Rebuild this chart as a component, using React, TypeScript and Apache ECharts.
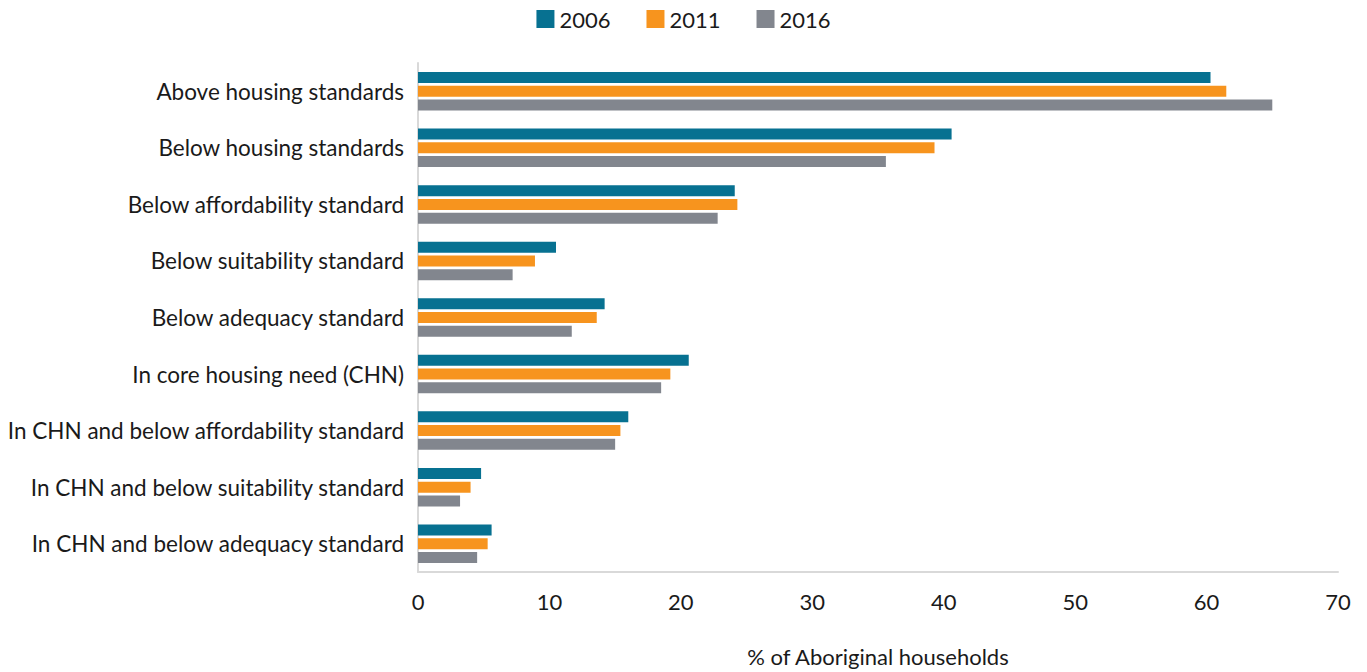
import React, { useEffect, useRef } from "react";
import * as echarts from "echarts";

const categories = [
  "Above housing standards",
  "Below housing standards",
  "Below affordability standard",
  "Below suitability standard",
  "Below adequacy standard",
  "In core housing need (CHN)",
  "In CHN and below affordability standard",
  "In CHN and below suitability standard",
  "In CHN and below adequacy standard",
];

const years = ["2006", "2011", "2016"];
const values2006 = [60.3, 40.6, 24.1, 10.5, 14.2, 20.6, 16.0, 4.8, 5.6];
const values2011 = [61.5, 39.3, 24.3, 8.9, 13.6, 19.2, 15.4, 4.0, 5.3];
const values2016 = [65.0, 35.6, 22.8, 7.2, 11.7, 18.5, 15.0, 3.2, 4.5];
const xTicks = { min: 0, max: 70, interval: 10 };
const xTitle = "% of Aboriginal households";

const colors = ["#077191", "#F7941E", "#82868E"];
const FONT = "Lato, 'Open Sans', sans-serif";

export default function App() {
  const ref = useRef<HTMLDivElement>(null);
  useEffect(() => {
    document.body.style.margin = "0";
    const chart = echarts.init(ref.current!, null, { renderer: "svg" });
    const seriesData = [values2006, values2011, values2016];
    chart.setOption({
      animation: false,
      textStyle: { fontFamily: FONT },
      legend: {
        data: years,
        top: 3,
        left: "center",
        itemWidth: 18,
        itemHeight: 18,
        itemGap: 36,
        icon: "rect",
        textStyle: { fontSize: 22, color: "#1a1a1a", fontFamily: FONT },
      },
      grid: { left: 418, right: 29, top: 63, bottom: 90, containLabel: false },
      xAxis: {
        type: "value",
        min: xTicks.min,
        max: xTicks.max,
        interval: xTicks.interval,
        splitLine: { show: false },
        axisLine: { show: true, lineStyle: { color: "#d9d9d9", width: 2 } },
        axisTick: { show: false },
        axisLabel: { fontSize: 22, color: "#1a1a1a", margin: 18, fontFamily: FONT },
        name: xTitle,
        nameLocation: "middle",
        nameGap: 73,
        nameTextStyle: { fontSize: 22, color: "#1a1a1a", fontFamily: FONT },
      },
      yAxis: {
        type: "category",
        data: categories,
        inverse: true,
        axisLine: { show: true, lineStyle: { color: "#d9d9d9", width: 2 } },
        axisTick: { show: false },
        axisLabel: { fontSize: 22.5, color: "#1a1a1a", margin: 14, fontFamily: FONT },
      },
      series: years.map((y, i) => ({
        name: y,
        type: "bar",
        data: seriesData[i],
        barWidth: 11,
        barGap: "25%",
        itemStyle: { color: colors[i] },
      })),
    });
    return () => chart.dispose();
  }, []);
  return (
    <div
      ref={ref}
      style={{ position: "absolute", left: 0, top: 0, width: 1367, height: 672 }}
    />
  );
}
